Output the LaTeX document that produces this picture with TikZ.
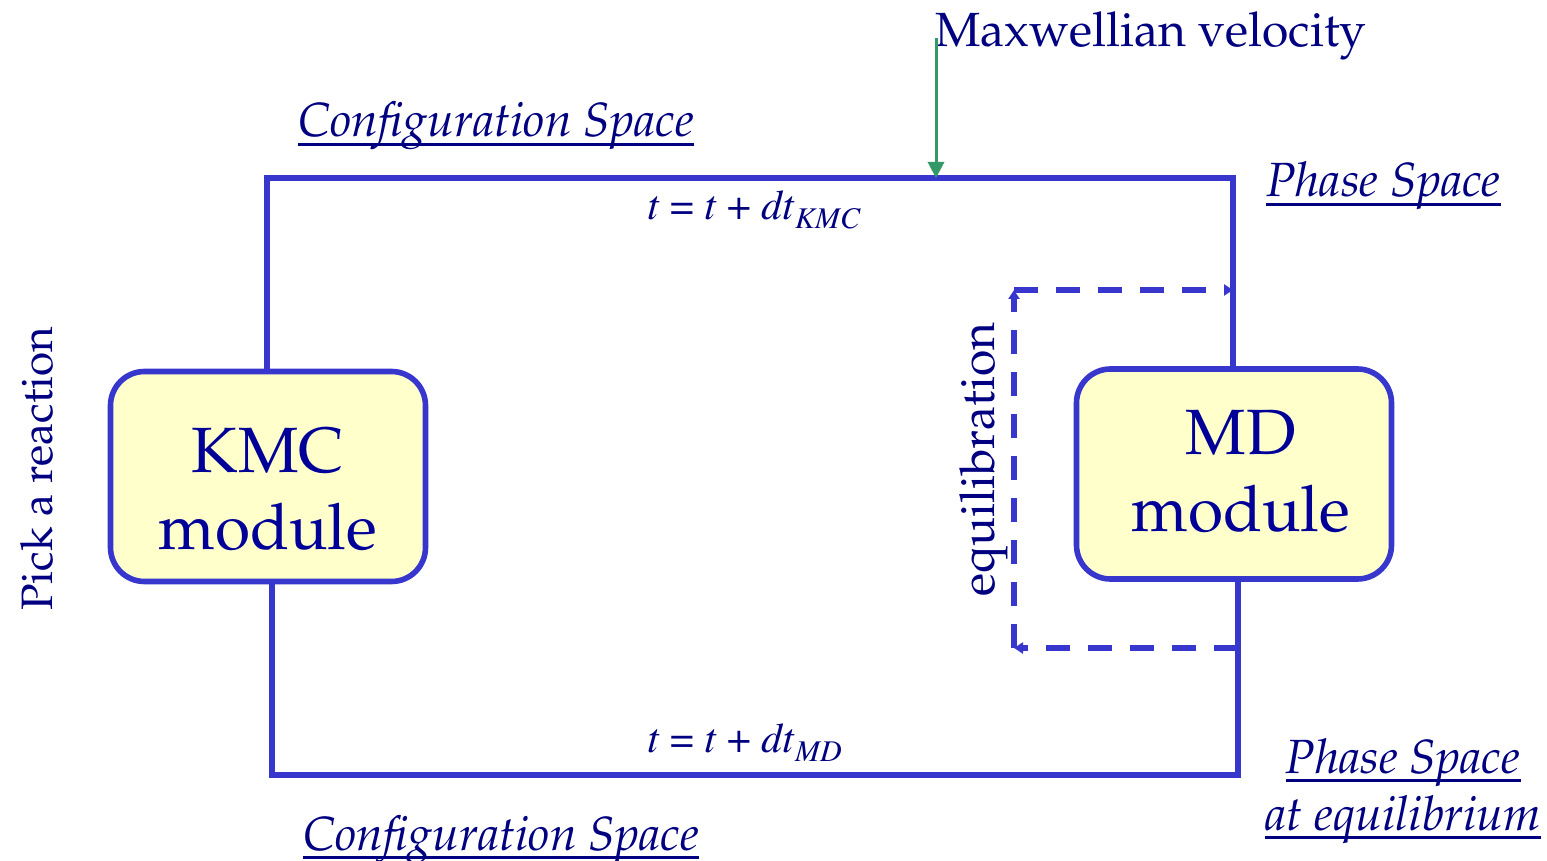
\documentclass[tikz,border=0pt]{standalone}
\usepackage[T1]{fontenc}
\usepackage{mathpazo}
\usetikzlibrary{arrows.meta}
\definecolor{navy}{RGB}{0,0,128}
\definecolor{modtext}{RGB}{0,0,153}
\definecolor{lineblue}{RGB}{55,55,205}
\definecolor{boxfill}{RGB}{255,255,204}
\definecolor{arrgreen}{RGB}{51,153,102}
\newcommand{\tms}{\fontfamily{ptm}\selectfont}
\begin{document}
\begin{tikzpicture}[x=0.5pt,y=-0.5pt,
  conn/.style={draw=lineblue,line width=2.8pt},
  dashconn/.style={draw=lineblue,line width=2.6pt,dash pattern=on 12pt off 9pt,-{Triangle[length=4.5pt,width=5.5pt]}},
  modbox/.style={draw=lineblue,line width=2.8pt,fill=boxfill,rounded corners=17pt,minimum width=157.5pt,minimum height=105pt},
  modtxt/.style={align=center,text=modtext,font=\fontsize{32}{38.5}\selectfont,inner sep=0pt},
  lab/.style={text=navy,font=\fontsize{24}{30}\selectfont\itshape,inner sep=0pt},
  ulin/.style={draw=navy,line width=1.6pt},
  plain/.style={text=navy,font=\fontsize{24}{28}\selectfont,inner sep=0pt},
  eq/.style={text=navy,font=\fontsize{21}{24}\tms,inner sep=0pt}]
\useasboundingbox (0,0) rectangle (1547,861);
% modules
\node[modbox] (kmc) at (268,476.5) {};
\node[modtxt] (kmct) at ([yshift=-6.5pt]kmc.center) {KMC\\module};
\node[modbox] (md) at (1234,474) {};
\node[modtxt] (mdt) at ([xshift=3.5pt,yshift=1pt]md.center) {MD\\module};
% corners
\coordinate (tl) at (267,178);
\coordinate (tr) at (1233,178);
\coordinate (bl) at (272,775);
\coordinate (br) at (1238,775);
\draw[conn] (kmc.north -| tl) -- (tl) -- (tr) -- (md.north -| tr);
\draw[conn] (kmc.south -| bl) -- (bl) -- (br) -- (md.south -| br);
% equilibration loop
\coordinate (d1) at (1238,648);
\coordinate (d2) at (1014,648);
\coordinate (d3) at (1014,290);
\coordinate (d4) at (1233,290);
\draw[dashconn] (d1) -- (d2);
\draw[dashconn] (d2) -- (d3);
\draw[dashconn] (d3) -- (d4);
% Maxwellian velocity
\node[plain,anchor=base west] (mxw) at (935,47) {Maxwellian velocity};
\coordinate (mv0) at (936,38);
\coordinate (mv1) at (936,178);
\draw[draw=arrgreen,line width=1.5pt,-{Triangle[length=8pt,width=8pt]}] (mv0) -- (mv1);
% labels
\node[lab,anchor=base west] (cs1) at (298,137) {Configuration Space};
\node[lab,anchor=base west] (ps1) at (1266,197) {Phase Space};
\node[lab,anchor=base west] (cs2) at (303,850) {Configuration Space};
\node[lab,anchor=base] (ps2) at (1403,773) {Phase Space};
\node[lab,anchor=base] (ps3) at (1403,830) {at equilibrium};
\foreach \n in {cs1,ps1,cs2,ps2,ps3}
  \draw[ulin] ([yshift=-3.8pt]\n.base west) -- ([yshift=-3.8pt]\n.base east);
\node[eq,anchor=base west] (t1) at (647,220) {\textit{t} = \textit{t} + \textit{dt}\raisebox{-4.5pt}{\fontsize{15}{17}\selectfont\textit{KMC}}};
\node[eq,anchor=base west] (t2) at (647,752) {\textit{t} = \textit{t} + \textit{dt}\raisebox{-4.5pt}{\fontsize{15}{17}\selectfont\textit{MD}}};
\node[plain,font=\fontsize{22}{26}\selectfont,anchor=base west,rotate=90] (pick) at (52,611) {Pick a reaction};
\node[plain,anchor=base west,rotate=90] (equi) at (994,597) {equilibration};
\end{tikzpicture}
\end{document}
